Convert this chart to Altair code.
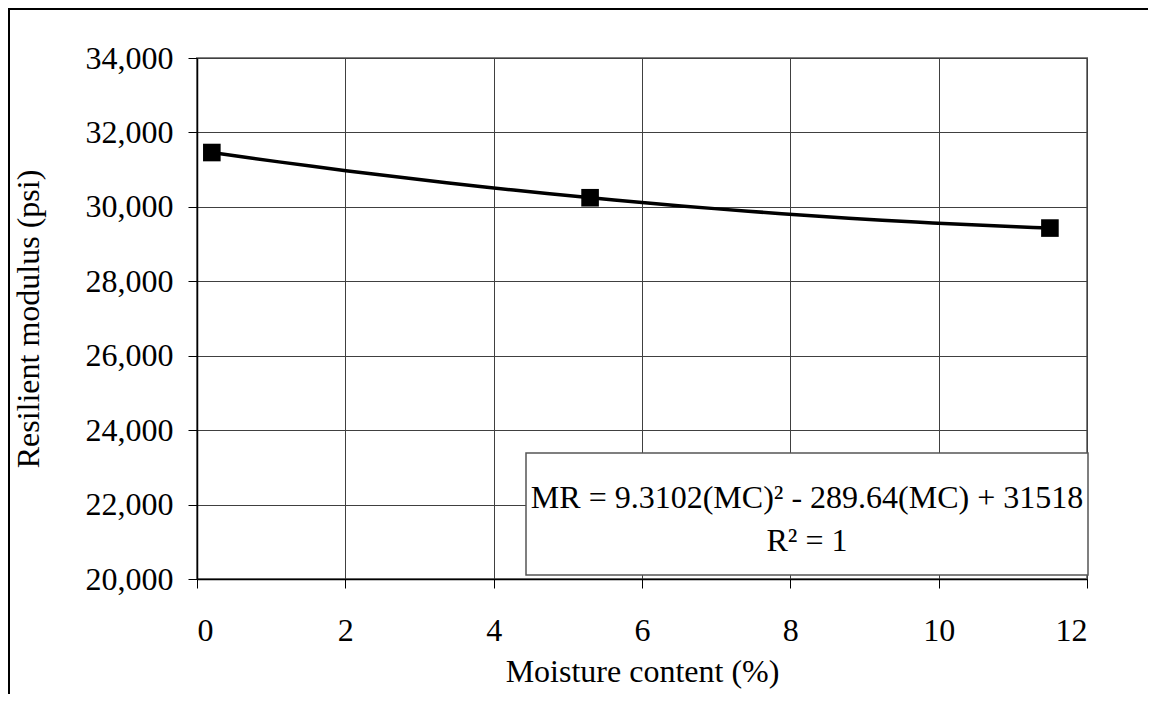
import altair as alt
import pandas as pd

# Data
moisture = [0.2, 5.3, 11.5]
modulus = [31460, 30245, 29430]
y_ticks = [20000, 22000, 24000, 26000, 28000, 30000, 32000, 34000]
x_ticks = [0, 2, 4, 6, 8, 10, 12]
eq_line1 = "MR = 9.3102(MC)² - 289.64(MC) + 31518"
eq_line2 = "R² = 1"

df = pd.DataFrame({"mc": moisture, "mr": modulus})
one = pd.DataFrame({"k": [0]})

FONT = "Liberation Serif"
FS = 32
W, H = 890, 521

axis_common = dict(
    labelFont=FONT, titleFont=FONT, labelFontSize=FS, titleFontSize=FS,
    labelColor="black", titleColor="black", titleFontWeight="normal",
    domainColor="black", domainWidth=1.5, tickColor="black", tickSize=9, tickWidth=1,
    gridColor="#404040", gridWidth=1, gridOpacity=1,
)

x_enc = alt.X("mc:Q", scale=alt.Scale(domain=[0, 12], nice=False),
              axis=alt.Axis(values=x_ticks, format="d", title="Moisture content (%)",
                            labelPadding=27, titlePadding=10, **axis_common))
y_enc = alt.Y("mr:Q", scale=alt.Scale(domain=[20000, 34000], nice=False, zero=False),
              axis=alt.Axis(values=y_ticks, format=",d", title="Resilient modulus (psi)",
                            labelPadding=15, titlePadding=40, **axis_common))

base = alt.Chart(df)

trend = base.transform_regression("mc", "mr", method="poly", order=2).mark_line(
    color="black", strokeWidth=3.5
).encode(x=x_enc, y=y_enc)

points = base.mark_point(shape="square", filled=True, color="black", size=310, opacity=1).encode(
    x=x_enc, y=y_enc
)

box = alt.Chart(one).mark_rect(fill="white", stroke="#555555", strokeWidth=1.5).encode(
    x=alt.value(329), x2=alt.value(891), y=alt.value(395), y2=alt.value(517)
)
txt1 = alt.Chart(one).mark_text(font=FONT, fontSize=FS, color="black", align="center", baseline="middle").encode(
    x=alt.value(610), y=alt.value(440), text=alt.value(eq_line1)
)
txt2 = alt.Chart(one).mark_text(font=FONT, fontSize=FS, color="black", align="center", baseline="middle").encode(
    x=alt.value(610), y=alt.value(483), text=alt.value(eq_line2)
)

frame_top = alt.Chart(one).mark_rule(color="black", strokeWidth=2).encode(
    x=alt.value(-189), x2=alt.value(951), y=alt.value(-49)
)
frame_left = alt.Chart(one).mark_rule(color="black", strokeWidth=2).encode(
    x=alt.value(-188), y=alt.value(-50), y2=alt.value(636)
)

chart = alt.layer(trend, points, box, txt1, txt2, frame_top, frame_left).properties(
    width=W, height=H,
    autosize=alt.AutoSizeParams(type="none"),
    padding={"left": 189, "top": 50, "right": 61, "bottom": 115},
    background="white",
).configure_view(
    stroke="#808080", strokeWidth=2
)

chart.save("out.html", embed_options={"renderer": "svg", "actions": False})
